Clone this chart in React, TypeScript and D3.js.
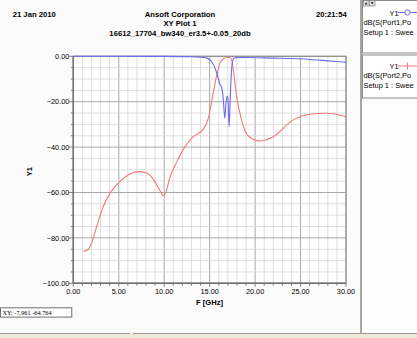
import React from "react";
import * as d3 from "d3";

const xTickValues = [0, 5, 10, 15, 20, 25, 30];
const yTickValues = [0, -20, -40, -60, -80, -100];

// dB(S(Port1,Port1)) - blue
const s11Freq = [0, 5, 10, 13, 14, 14.7, 15.2, 15.6, 15.95, 16.1, 16.3, 16.48, 16.67, 16.78, 16.92, 17.02, 17.14, 17.3, 17.44, 17.6, 17.86, 19, 22, 24.2, 26, 28, 30];
const s11dB = [0, 0, -0.05, -0.2, -0.4, -0.8, -2.3, -5.3, -9.7, -12.2, -13.4, -17.8, -27.3, -21.4, -17.5, -19, -31, -14.8, -4.6, -1.2, -0.6, -0.5, -0.8, -1.0, -1.4, -2.0, -2.6];

// dB(S(Port2,Port1)) - red
const s21Freq = [1.1, 1.65, 2.0, 2.57, 3.3, 4.03, 5.13, 6.23, 7.33, 8.14, 8.98, 9.6, 9.9, 10.2, 10.6, 11.4, 12.3, 13.2, 14.3, 14.85, 15.4, 15.77, 16.13, 16.5, 16.87, 17.2, 17.4, 17.6, 17.97, 18.5, 19.25, 20.5, 22, 24.2, 26, 27.9, 30];
const s21dB = [-86, -85, -82.4, -75, -66.2, -60.4, -55.2, -51.8, -50.8, -51.5, -55.2, -59.6, -61.4, -59.6, -53.7, -46.4, -39.8, -35.4, -32.2, -27.3, -16, -8.5, -3, -1.2, -0.5, -0.5, -1.2, -6, -17.8, -28, -35.1, -37.3, -35.4, -28, -25.5, -25.1, -26.6];

// legend texts as visible in the (clipped) legend panel
const legendNames = ["dB(S(Port1,Po", "dB(S(Port2,Po"];
const legendSetup = "Setup 1 : Swee";

const W = 417;
const H = 338;
const sans = "'Liberation Sans', Arial, sans-serif";

export default function App() {
  const x = d3.scaleLinear().domain([0, 30]).range([73.3, 346]);
  const y = d3.scaleLinear().domain([0, -100]).range([56.3, 283.3]);
  const fmt = d3.format(".2f");

  const minorX = d3.range(0, 31, 1);
  const minorY = d3.range(0, -101, -5);

  const line = d3
    .line<[number, number]>()
    .x((d) => x(d[0]))
    .y((d) => y(d[1]))
    .curve(d3.curveMonotoneX);

  const s11 = s11Freq.map((f, i) => [f, s11dB[i]] as [number, number]);
  const s21 = s21Freq.map((f, i) => [f, s21dB[i]] as [number, number]);

  const [x0, x1] = x.range();
  const [y0, y1] = y.range();

  return (
    <svg
      width={W}
      height={H}
      style={{ position: "fixed", left: 0, top: 0 }}
      fontFamily={sans}
    >
      <rect x={0} y={0} width={W} height={H} fill="#fbfbfb" />

      {/* header */}
      <g fontSize={7.7} fontWeight="bold" fill="#000">
        <text x={12.7} y={16.8}>21 Jan 2010</text>
        <text x={180} y={16.8} textAnchor="middle">Ansoft Corporation</text>
        <text x={180} y={26.3} textAnchor="middle">XY Plot 1</text>
        <text x={180} y={36} textAnchor="middle">16612_17704_bw340_er3.5+-0.05_20db</text>
        <text x={346.7} y={16.8} textAnchor="end">20:21:54</text>
      </g>

      {/* plot area */}
      <rect x={x0} y={y0} width={x1 - x0} height={y1 - y0} fill="#ffffff" />
      {minorX.map((v) => (
        <line key={"gx" + v} x1={x(v)} x2={x(v)} y1={y0} y2={y1}
          stroke={v % 5 === 0 ? "#a8a8a8" : "#d6d6d6"} strokeWidth={v % 5 === 0 ? 1 : 0.8} />
      ))}
      {minorY.map((v) => (
        <line key={"gy" + v} x1={x0} x2={x1} y1={y(v)} y2={y(v)}
          stroke={v % 20 === 0 ? "#a8a8a8" : "#d6d6d6"} strokeWidth={v % 20 === 0 ? 1 : 0.8} />
      ))}
      <rect x={x0} y={y0} width={x1 - x0} height={y1 - y0} fill="none" stroke="#909090" strokeWidth={1.2} />

      {/* ticks */}
      {minorY.map((v) => (
        <line key={"ty" + v} x1={v % 20 === 0 ? x0 - 4 : x0 - 2.5} x2={x0} y1={y(v)} y2={y(v)} stroke="#606060" strokeWidth={0.8} />
      ))}
      {minorX.map((v) => (
        <line key={"tx" + v} x1={x(v)} x2={x(v)} y1={y1} y2={v % 5 === 0 ? y1 + 3.5 : y1 + 2.5} stroke="#606060" strokeWidth={0.8} />
      ))}
      <line x1={x0} x2={x0} y1={y0} y2={y1} stroke="#707070" strokeWidth={1.4} />
      <line x1={x0} x2={x1} y1={y1} y2={y1} stroke="#707070" strokeWidth={1.4} />

      <g fontSize={7.3} fill="#000">
        {yTickValues.map((v) => (
          <text key={"ly" + v} x={69.3} y={y(v) + 2.6} textAnchor="end">{fmt(v)}</text>
        ))}
        {xTickValues.map((v) => (
          <text key={"lx" + v} x={x(v)} y={293.6} textAnchor="middle">{fmt(v)}</text>
        ))}
      </g>
      <text x={209.5} y={305.3} fontSize={7.6} fontWeight="bold" textAnchor="middle">F [GHz]</text>
      <text transform="translate(32.3,171.7) rotate(-90)" fontSize={7.6} fontWeight="bold" textAnchor="middle">Y1</text>

      {/* curves */}
      <path d={line(s21) ?? ""} fill="none" stroke="#f47878" strokeWidth={1.1} />
      <path d={line(s11) ?? ""} fill="none" stroke="#6b6bf2" strokeWidth={1.1} />

      {/* XY readout box */}
      <rect x={0.5} y={307.8} width={71.3} height={9.3} fill="#ffffff" stroke="#707070" strokeWidth={1} />
      <text x={2.5} y={315} fontSize={6.3} fontFamily="'Liberation Serif', 'Times New Roman', serif">XY: -7.961 -64.764</text>

      {/* divider and legend panel */}
      <rect x={360} y={0} width={2} height={333} fill="#a8a8a0" />
      <rect x={362} y={0} width={55} height={333} fill="#fdfdfd" />
      <rect x={362.5} y={0.5} width={60} height={52.5} fill="#ffffff" stroke="#8c8c8c" strokeWidth={1} />
      <rect x={362.5} y={55} width={60} height={43} fill="#ffffff" stroke="#8c8c8c" strokeWidth={1} />
      {/* tiny scroll buttons */}
      <rect x={363.5} y={0.5} width={5.5} height={5.5} fill="#e0e0e0" stroke="#777" strokeWidth={0.6} />
      <rect x={369.5} y={0.5} width={5.5} height={5.5} fill="#e0e0e0" stroke="#777" strokeWidth={0.6} />
      <path d="M364.8,4.5 L366.25,2 L367.7,4.5 Z" fill="#333" />
      <path d="M370.8,2 L372.25,4.5 L373.7,2 Z" fill="#333" />

      <g fontSize={7.4} fill="#000">
        <text x={389.5} y={15.5}>Y1</text>
        <text x={363.5} y={24.5}>{legendNames[0]}</text>
        <text x={363.5} y={34.5}>{legendSetup}</text>
        <text x={389.5} y={69}>Y1</text>
        <text x={363.5} y={78}>{legendNames[1]}</text>
        <text x={363.5} y={88}>{legendSetup}</text>
      </g>
      <line x1={398} x2={417} y1={12.5} y2={12.5} stroke="#6b6bf2" strokeWidth={1} />
      <circle cx={407.5} cy={12.5} r={2.6} fill="#ffffff" stroke="#6b6bf2" strokeWidth={1} />
      <line x1={398} x2={417} y1={66} y2={66} stroke="#f47878" strokeWidth={1} />
      <line x1={407.5} x2={407.5} y1={62.5} y2={69.5} stroke="#f47878" strokeWidth={1} />

      {/* bottom status strip */}
      <rect x={0} y={333} width={W} height={5} fill="#ece9d8" />
      <line x1={0} x2={130} y1={333.5} y2={333.5} stroke="#9a9a9a" strokeWidth={1} />
      <line x1={133} x2={W} y1={333.5} y2={333.5} stroke="#9a9a9a" strokeWidth={1} />
    </svg>
  );
}
